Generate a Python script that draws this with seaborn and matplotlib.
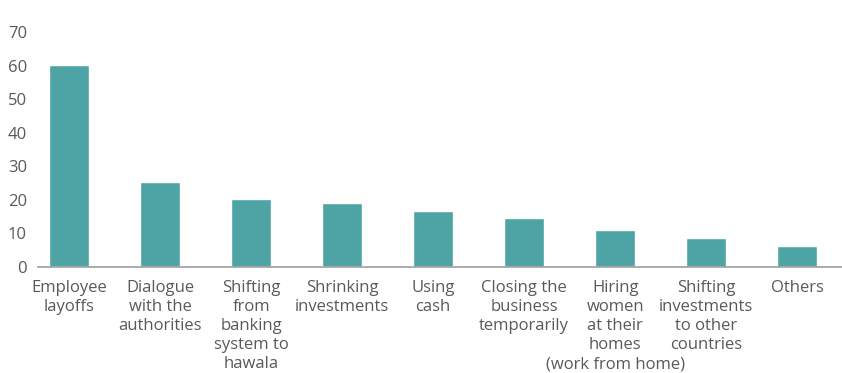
import matplotlib
matplotlib.use("Agg")
import matplotlib.pyplot as plt
import seaborn as sns
import pandas as pd

# Coping strategies and share of businesses (%)
categories = [
    "Employee\nlayoffs",
    "Dialogue\nwith the\nauthorities",
    "Shifting\nfrom\nbanking\nsystem to\nhawala",
    "Shrinking\ninvestments",
    "Using\ncash",
    "Closing the\nbusiness\ntemporarily",
    "Hiring\nwomen\nat their\nhomes",
    "Shifting\ninvestments\nto other\ncountries",
    "Others",
]
values = [60.2, 25.3, 20.3, 19.1, 16.7, 14.6, 11.0, 8.6, 6.3]
y_ticks = [0, 10, 20, 30, 40, 50, 60, 70]
# last line of the "Hiring women" label, written on its own row
hiring_note = "(work from home)"

sns.set_theme(style="white")
plt.rcParams["font.family"] = ["Open Sans", "DejaVu Sans"]

BAR = "#4EA3A5"
TEXT = "#595959"
AXIS = "#A6A6A6"

W, H, DPI = 842, 373, 100
fig = plt.figure(figsize=(W / DPI, H / DPI), dpi=DPI)
ax = fig.add_axes([38 / W, 1 - 267 / H, (842 - 38) / W, (267 - 32) / H])

df = pd.DataFrame({"category": categories, "value": values})
sns.barplot(data=df, x="category", y="value", color=BAR, saturation=1,
            width=0.44, ax=ax)

ax.set_ylim(0, 70)
ax.set_xlim(-0.34, 8.49)
ax.set_yticks(y_ticks)
ax.set_xlabel("")
ax.set_ylabel("")

for s in ["top", "right", "left"]:
    ax.spines[s].set_visible(False)
ax.spines["bottom"].set_color(AXIS)
ax.spines["bottom"].set_linewidth(1.3)

ax.tick_params(axis="y", length=0, pad=8, labelsize=12, labelcolor=TEXT)
ax.tick_params(axis="x", length=0, pad=9, labelsize=12, labelcolor=TEXT)
for lbl in ax.get_xticklabels():
    lbl.set_horizontalalignment("center")
    lbl.set_linespacing(1.27)

# put the note on the same row as the last line of the five-line label
fig.canvas.draw()
five_line = ax.get_xticklabels()[2]
bottom_px = five_line.get_window_extent().y0
hiring_x = categories.index("Hiring\nwomen\nat their\nhomes")
x_px = ax.transData.transform((hiring_x, 0))[0]
fig.text(x_px / W, bottom_px / H, hiring_note, ha="center", va="bottom",
         fontsize=12, color=TEXT)

fig.savefig("out.png", dpi=DPI, facecolor="white")
